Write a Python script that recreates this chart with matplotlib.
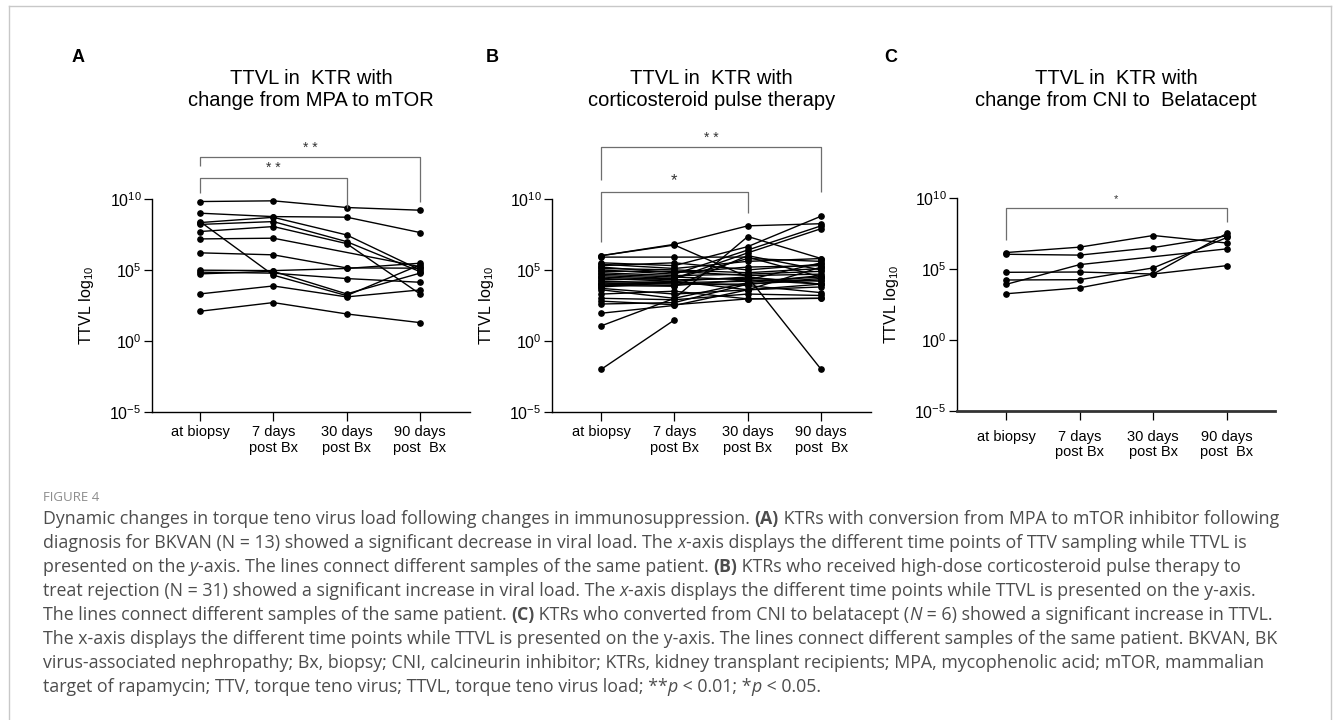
import numpy as np
import matplotlib
matplotlib.use("Agg")
import matplotlib.pyplot as plt
from matplotlib.lines import Line2D

plt.rcParams["font.family"] = ["Liberation Sans", "DejaVu Sans"]
plt.rcParams["mathtext.fontset"] = "custom"
plt.rcParams["mathtext.rm"] = "Liberation Sans"
plt.rcParams["mathtext.it"] = "Liberation Sans:italic"

timepoints = ["at biopsy", "7 days\npost Bx", "30 days\npost Bx", "90 days\npost  Bx"]

# log10 TTVL per patient: at biopsy, 7 days, 30 days, 90 days (nan = no sample)
mtor_log = [
    [9.81, 9.86, 9.39, 9.20],
    [8.99, 8.75, 8.71, 7.63],
    [8.40, 4.63, 3.19, 5.35],
    [8.33, 8.70, 7.46, 5.00],
    [8.20, 8.40, 6.99, 4.88],
    [7.70, 8.05, 6.85, 3.31],
    [7.18, 7.23, np.nan, 5.23],
    [6.20, 6.06, 5.14, 5.12],
    [4.98, 4.95, 5.10, 5.47],
    [4.84, 4.77, 4.39, 4.13],
    [4.72, 4.90, 3.31, 4.77],
    [3.31, 3.87, 3.10, 3.59],
    [2.09, 2.70, 1.90, 1.29],
]

steroid_log = [
    [6.00, 6.80, 8.10, 8.25],
    [6.00, 6.75, 4.50, -2.00],
    [5.90, 5.90, 5.90, 4.50],
    [5.50, 5.30, 6.64, 8.78],
    [5.40, 5.10, 5.60, 5.80],
    [5.30, 5.50, 5.00, 5.40],
    [5.20, 4.80, 5.20, 5.30],
    [5.10, 5.00, 4.80, 5.10],
    [5.00, 4.70, 6.40, 8.10],
    [4.90, 4.90, 4.60, 4.70],
    [4.80, 4.60, 4.70, 4.90],
    [4.70, 4.50, 4.30, 5.50],
    [4.60, 4.40, 6.20, 7.90],
    [4.50, 4.30, 4.40, 4.20],
    [4.40, 4.20, 4.50, 4.00],
    [4.30, 4.40, 5.80, 5.60],
    [4.20, 4.10, 4.20, 4.50],
    [4.10, 4.00, 4.00, 4.40],
    [4.00, 4.20, 3.60, 5.20],
    [4.00, 3.90, 4.30, 4.00],
    [3.90, 3.85, 6.00, 5.00],
    [3.80, 4.10, 3.90, 3.40],
    [3.70, 3.30, 3.60, 3.80],
    [3.60, 3.00, 4.10, 4.60],
    [3.30, 3.50, 2.96, 3.00],
    [3.00, 2.90, 3.30, 3.20],
    [2.80, 2.55, 2.96, 3.00],
    [2.60, 2.70, 4.00, 4.30],
    [1.95, 2.50, 3.60, 4.00],
    [1.06, 3.00, 7.35, 5.80],
    [-2.00, 1.48, np.nan, np.nan],
]

belatacept_log = [
    [6.15, 6.53, 7.35, 6.82],
    [6.03, 5.97, 6.50, 7.33],
    [4.76, 4.78, 4.64, 7.50],
    [3.91, 5.30, np.nan, 6.41],
    [4.22, 4.24, 5.07, 7.21],
    [3.25, 3.67, 4.64, 5.23],
]

titles = [
    "TTVL in  KTR with\nchange from MPA to mTOR",
    "TTVL in  KTR with\ncorticosteroid pulse therapy",
    "TTVL in  KTR with\nchange from CNI to  Belatacept",
]
letters = ["A", "B", "C"]

fig = plt.figure(figsize=(13.33, 7.2), dpi=100)
W, H = 1333, 720


def fx(px):
    return px / W


def fy(py):
    return 1 - py / H


def bracket(ax, x0, x1, bar, left_end, right_end, label, label_y, size=10):
    kw = dict(color="#6e6e6e", lw=0.9, clip_on=False, solid_capstyle="butt")
    ax.plot([x0, x0, x1, x1], [10 ** left_end, 10 ** bar, 10 ** bar, 10 ** right_end], **kw)
    ax.text((x0 + x1) / 2, 10 ** label_y, label, ha="center", va="center",
            fontsize=size, color="#333333", clip_on=False)


def draw_panel(ax, data, xlim, label_pad):
    x = np.arange(len(timepoints))
    for row in data:
        row = np.array(row, dtype=float)
        ok = ~np.isnan(row)
        ax.plot(x[ok], 10 ** row[ok], color="black", lw=1.0, marker="o",
                ms=3.8, clip_on=False)
    ax.set_yscale("log")
    ax.set_ylim(1e-5, 1e14)
    ax.set_xlim(*xlim)
    ax.minorticks_off()
    ax.set_yticks([1e-5, 1, 1e5, 1e10])
    ax.set_yticklabels(["$10^{-5}$", "$10^{0}$", "$10^{5}$", "$10^{10}$"], fontsize=11.5)
    ax.set_xticks(x)
    ax.set_xticklabels(timepoints, fontsize=10.5, linespacing=1.15)
    ax.spines["top"].set_visible(False)
    ax.spines["right"].set_visible(False)
    ax.spines["left"].set_bounds(1e-5, 1e10)
    ax.spines["left"].set_linewidth(1.0)
    ax.spines["bottom"].set_linewidth(1.0)
    ax.tick_params(axis="y", length=5.5, width=0.9, pad=2)
    ax.tick_params(axis="x", length=6.5, width=0.9, pad=label_pad)
    ax.set_ylabel("TTVL log$_{10}$", fontsize=11.5)
    ax.yaxis.set_label_coords(-0.175, 0.395)


axA = fig.add_axes([fx(152), fy(412), fx(318), 270 / H])
axB = fig.add_axes([fx(552), fy(412), fx(319), 270 / H])
axC = fig.add_axes([fx(957), fy(411), fx(318), 270 / H])

draw_panel(axA, mtor_log, (-0.655, 3.683), 3)
draw_panel(axB, steroid_log, (-0.67, 3.68), 3)
draw_panel(axC, belatacept_log, (-0.666, 3.654), 7)
axC.spines["bottom"].set_linewidth(2.0)
axC.spines["bottom"].set_color("#333333")

bracket(axA, 0, 3, 12.96, 12.32, 9.79, "* *", 13.6)
bracket(axA, 0, 2, 11.48, 10.42, 9.37, "* *", 12.15)
bracket(axB, 0, 3, 13.66, 11.34, 10.49, "* *", 14.3)
bracket(axB, 0, 2, 10.49, 6.97, 9.01, "*", 11.3, size=12)
bracket(axC, 0, 3, 9.25, 7.06, 8.33, "*", 9.9, size=8)

for ax, title, letter, lx in zip([axA, axB, axC], titles, letters, [78, 492, 891]):
    pos = ax.get_position()
    fig.text(pos.x0 + pos.width / 2, fy(90), title, ha="center", va="center",
             fontsize=14.5, linespacing=1.2)
    fig.text(fx(lx), fy(57), letter, ha="center", va="center",
             fontsize=13, fontweight="bold")

# light frame round the figure (open at the bottom)
frame = dict(color="#c8c8c8", lw=1.0, transform=fig.transFigure)
fig.add_artist(Line2D([fx(9), fx(9)], [fy(6), 0], **frame))
fig.add_artist(Line2D([fx(9), fx(1331)], [fy(6), fy(6)], **frame))
fig.add_artist(Line2D([fx(1331), fx(1331)], [fy(6), 0], **frame))

# caption
cap_font = ["Open Sans", "DejaVu Sans"]
cap_size = 12.8
cap_color = "#4d4d4d"
fig.text(fx(43), fy(501), "FIGURE 4", fontsize=9.5, color="#8c8c8c",
         family=cap_font, va="baseline")

N, B, I = "normal", "bold", "italic"
caption_lines = [
    [("Dynamic changes in torque teno virus load following changes in immunosuppression. ", N),
     ("(A)", B), (" KTRs with conversion from MPA to mTOR inhibitor following", N)],
    [("diagnosis for BKVAN (N = 13) showed a significant decrease in viral load. The ", N),
     ("x", I), ("-axis displays the different time points of TTV sampling while TTVL is", N)],
    [("presented on the ", N), ("y", I),
     ("-axis. The lines connect different samples of the same patient. ", N), ("(B)", B),
     (" KTRs who received high-dose corticosteroid pulse therapy to", N)],
    [("treat rejection (N = 31) showed a significant increase in viral load. The ", N),
     ("x", I), ("-axis displays the different time points while TTVL is presented on the y-axis.", N)],
    [("The lines connect different samples of the same patient. ", N), ("(C)", B),
     (" KTRs who converted from CNI to belatacept (", N), ("N", I),
     (" = 6) showed a significant increase in TTVL.", N)],
    [("The x-axis displays the different time points while TTVL is presented on the y-axis. "
      "The lines connect different samples of the same patient. BKVAN, BK", N)],
    [("virus-associated nephropathy; Bx, biopsy; CNI, calcineurin inhibitor; KTRs, kidney "
      "transplant recipients; MPA, mycophenolic acid; mTOR, mammalian", N)],
    [("target of rapamycin; TTV, torque teno virus; TTVL, torque teno virus load; **", N),
     ("p", I), (" < 0.01; *", N), ("p", I), (" < 0.05.", N)],
]

renderer = fig.canvas.get_renderer()


def text_width(s, kind):
    kw = dict(fontsize=cap_size, family=cap_font)
    if kind == B:
        kw["fontweight"] = "bold"
    if kind == I:
        kw["fontstyle"] = "italic"
    t1 = fig.text(0, 0, "|" + s + "|", **kw)
    t2 = fig.text(0, 0, "||", **kw)
    w = t1.get_window_extent(renderer).width - t2.get_window_extent(renderer).width
    t1.remove()
    t2.remove()
    return w


for i, segs in enumerate(caption_lines):
    x = 43.0
    y = 524 + 24 * i
    for s, kind in segs:
        kw = dict(fontsize=cap_size, family=cap_font, color=cap_color, va="baseline")
        if kind == B:
            kw["fontweight"] = "bold"
        if kind == I:
            kw["fontstyle"] = "italic"
        fig.text(fx(x), fy(y), s, **kw)
        x += text_width(s, kind)

fig.savefig("out.png", dpi=100)
